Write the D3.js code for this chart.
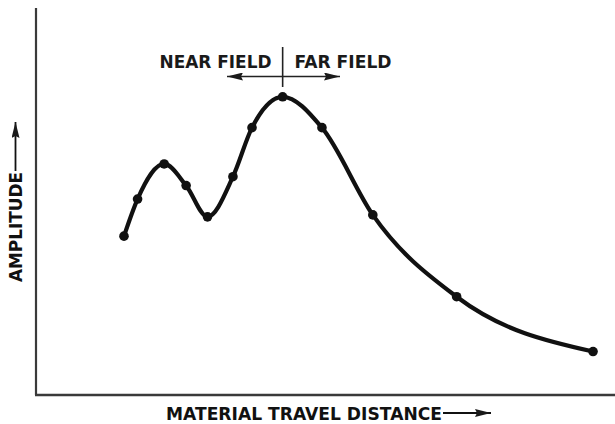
<!DOCTYPE html>
<html><head><meta charset="utf-8">
<script src="https://cdn.jsdelivr.net/npm/d3@7"></script>
<style>body{margin:0;background:#fff}svg{display:block}</style>
</head><body>
<svg id="c" width="615" height="424"></svg>
<script>
const distance = [15.05, 17.4, 22.0, 25.8, 29.5, 33.9, 37.2, 42.5, 49.3, 58.1, 72.6, 96.2];
const amplitude = [40.9, 50.5, 59.6, 54.0, 45.9, 56.3, 69.0, 77.0, 69.0, 46.4, 25.2, 11.0];
const boundary = 42.5;
const xLabel = "MATERIAL TRAVEL DISTANCE";
const yLabel = "AMPLITUDE";
const nearLabel = "NEAR FIELD";
const farLabel = "FAR FIELD";

const svg = d3.select("#c");
const x = d3.scaleLinear().domain([0,100]).range([37,615]);
const y = d3.scaleLinear().domain([0,100]).range([394,8]);
const pts = distance.map((d,i)=>({x:d,y:amplitude[i]}));
const font = "'DejaVu Sans', Verdana, sans-serif";
const fs = 17.8;

svg.append("defs").append("marker").attr("id","ah").attr("viewBox","0 0 16 8")
  .attr("refX",16).attr("refY",4).attr("markerWidth",16).attr("markerHeight",8)
  .attr("markerUnits","userSpaceOnUse").attr("orient","auto-start-reverse")
  .append("path").attr("d","M0,0L16,4L0,8L2,4Z").attr("fill","#1a1a1a");

// axes
svg.append("line").attr("x1",x(0)-1).attr("x2",x(0)-1).attr("y1",y(100)).attr("y2",y(0)+1)
  .attr("stroke","#3a3a3a").attr("stroke-width",2.2);
svg.append("line").attr("x1",x(0)-2).attr("x2",x(100)).attr("y1",y(0)+1).attr("y2",y(0)+1)
  .attr("stroke","#3a3a3a").attr("stroke-width",2.6);

// curve
const line = d3.line().x(d=>x(d.x)).y(d=>y(d.y)).curve(d3.curveMonotoneX);
svg.append("path").datum(pts).attr("d",line).attr("fill","none")
  .attr("stroke","#111").attr("stroke-width",4.2).attr("stroke-linecap","round");
svg.selectAll("circle.p").data(pts).join("circle").attr("class","p")
  .attr("cx",d=>x(d.x)).attr("cy",d=>y(d.y)).attr("r",4.8).attr("fill","#111");

// near/far
const bx = x(boundary);
svg.append("line").attr("x1",bx).attr("x2",bx).attr("y1",47).attr("y2",87)
  .attr("stroke","#222").attr("stroke-width",1.6);
svg.append("line").attr("x1",bx).attr("x2",227).attr("y1",76.5).attr("y2",76.5)
  .attr("stroke","#222").attr("stroke-width",1.6).attr("marker-end","url(#ah)");
svg.append("line").attr("x1",bx).attr("x2",340).attr("y1",76.5).attr("y2",76.5)
  .attr("stroke","#222").attr("stroke-width",1.6).attr("marker-end","url(#ah)");
svg.append("text").attr("x",159.5).attr("y",67.5)
  .attr("font-family",font).attr("font-weight","bold").attr("font-size",fs).attr("fill","#1a1a1a")
  .attr("textLength",112).attr("lengthAdjust","spacingAndGlyphs")
  .text(nearLabel);
svg.append("text").attr("x",294.5).attr("y",67.5)
  .attr("font-family",font).attr("font-weight","bold").attr("font-size",fs).attr("fill","#1a1a1a")
  .attr("textLength",97).attr("lengthAdjust","spacingAndGlyphs")
  .text(farLabel);

// x label
svg.append("text").attr("x",166).attr("y",419.5)
  .attr("font-family",font).attr("font-weight","bold").attr("font-size",fs).attr("fill","#111")
  .attr("textLength",276).attr("lengthAdjust","spacingAndGlyphs")
  .text(xLabel);
svg.append("line").attr("x1",443).attr("x2",491).attr("y1",413).attr("y2",413)
  .attr("stroke","#111").attr("stroke-width",1.8).attr("marker-end","url(#ah)");

// y label
svg.append("text").attr("transform","translate(22,282) rotate(-90)")
  .attr("font-family",font).attr("font-weight","bold").attr("font-size",fs).attr("fill","#111")
  .attr("textLength",110).attr("lengthAdjust","spacingAndGlyphs")
  .text(yLabel);
svg.append("line").attr("x1",15.5).attr("x2",15.5).attr("y1",171).attr("y2",122)
  .attr("stroke","#111").attr("stroke-width",1.8).attr("marker-end","url(#ah)");
</script>
</body></html>
